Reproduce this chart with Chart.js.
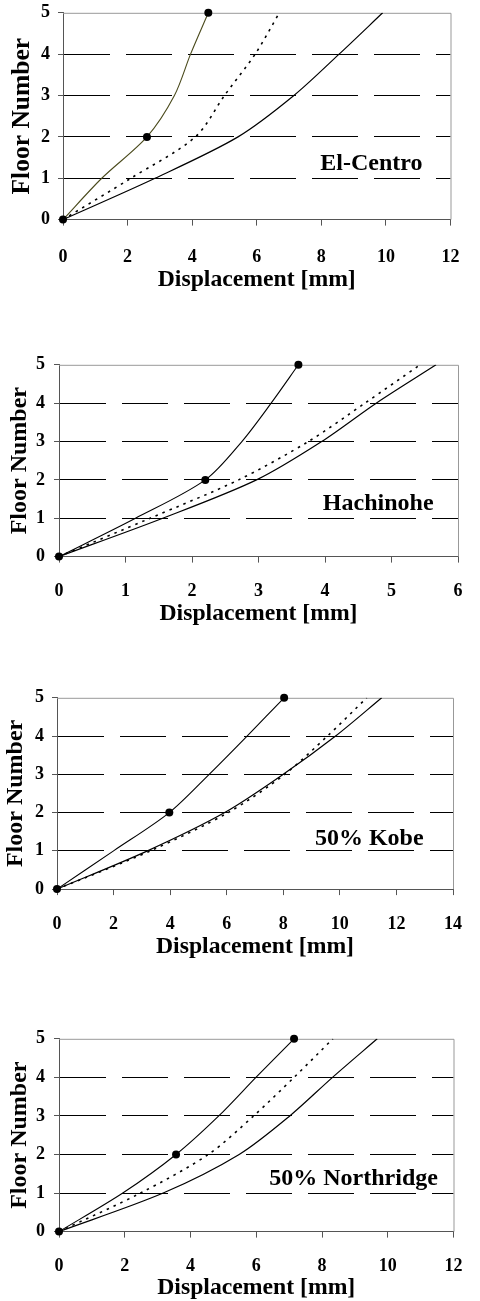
<!DOCTYPE html>
<html>
<head>
<meta charset="utf-8">
<script src="https://cdn.jsdelivr.net/npm/chart.js@4.4.1/dist/chart.umd.min.js"></script>
<style>
  body { margin: 0; background: #fff; width: 480px; height: 1301px; position: relative; overflow: hidden; }
  .box { position: absolute; left: 0; width: 480px; }
</style>
</head>
<body>
<div class="box" id="b1"><canvas id="c1"></canvas></div>
<div class="box" id="b2"><canvas id="c2"></canvas></div>
<div class="box" id="b3"><canvas id="c3"></canvas></div>
<div class="box" id="b4"><canvas id="c4"></canvas></div>
<script>
// floors (y values) shared by every chart
var floors = [0, 1, 2, 3, 4, 5];
var markedFloors = [0, 2, 5];
var floorTicks = ['0', '1', '2', '3', '4', '5'];

// El-Centro
var elCentroA = [0, 1.2, 2.6, 3.45, 3.95, 4.5];
var elCentroB = [0, 2.1, 4.1, 5.0, 5.95, 6.7];
var elCentroC = [0, 2.85, 5.42, 7.15, 8.55, 9.9];
// Hachinohe
var hachinoheA = [0, 1.15, 2.2, 2.75, 3.19, 3.6];
var hachinoheB = [0, 1.37, 2.7, 3.75, 4.6, 5.43];
var hachinoheC = [0, 1.56, 2.97, 3.95, 4.77, 5.67];
// 50% Kobe
var kobeA = [0, 2.0, 3.97, 5.38, 6.72, 8.03];
var kobeB = [0, 3.3, 6.05, 8.05, 9.56, 10.95];
var kobeC = [0, 3.2, 5.93, 8.0, 9.85, 11.48];
// 50% Northridge
var northA = [0, 1.94, 3.56, 4.86, 5.99, 7.15];
var northB = [0, 2.48, 4.54, 5.92, 7.15, 8.33];
var northC = [0, 3.17, 5.48, 7.02, 8.32, 9.68];

var xMax = [12, 6, 14, 12];
var xStep = [2, 1, 2, 2];
var names = ['El-Centro', 'Hachinohe', '50% Kobe', '50% Northridge'];
// where the record name sits, in axis units [displacement, floor]
var nameAt = [[9.55, 1.35], [4.8, 1.37], [11.04, 1.32], [8.96, 1.37]];

var serif = '"Liberation Serif", "Times New Roman", serif';

// page placement of every plot area (left, right, top, bottom) plus text offsets
var frames = [
  {l: 63, r: 470, t: 9, b: 220, tickPad: 20.5, xTitle: 60, yTitleSize: 25.5, yTitlePad: 7.5, yPad: 8},
  {l: 59, r: 471, t: 360, b: 557, tickPad: 17.5, xTitle: 57, yTitleSize: 24, yTitlePad: 5.5, yPad: 9},
  {l: 57, r: 464, t: 694, b: 889, tickPad: 18, xTitle: 57.5, yTitleSize: 24, yTitlePad: 1.5, yPad: 8},
  {l: 59, r: 466, t: 1034, b: 1232, tickPad: 17.5, xTitle: 56, yTitleSize: 24, yTitlePad: 5.5, yPad: 9}
];

function pts(xs){
  return xs.map(function(v, i){ return {x: v, y: floors[i]}; });
}

var framePlugin = {
  id: 'frame',
  beforeDatasetsDraw: function(chart){
    var a = chart.chartArea, ctx = chart.ctx;
    ctx.save();
    ctx.strokeStyle = '#999';
    ctx.lineWidth = 1;
    ctx.beginPath();
    ctx.moveTo(a.left, a.top + 0.5);
    ctx.lineTo(a.right + 0.5, a.top + 0.5);
    ctx.lineTo(a.right + 0.5, a.bottom);
    ctx.stroke();
    ctx.restore();
  },
  afterDatasetsDraw: function(chart){
    var n = chart.options.plugins.frame;
    var ctx = chart.ctx;
    ctx.save();
    ctx.font = 'bold 24px ' + serif;
    ctx.fillStyle = '#000';
    ctx.textAlign = 'center';
    ctx.textBaseline = 'middle';
    ctx.fillText(n.text, chart.scales.x.getPixelForValue(n.at[0]), chart.scales.y.getPixelForValue(n.at[1]));
    ctx.restore();
  }
};

function makeChart(k, a, b, c, lineColor){
  var f = frames[k];
  var topPad = 15;
  var xh = f.xTitle + 14.4;
  var box = document.getElementById('b' + (k + 1));
  var h = Math.round(f.b - f.t + topPad + xh);
  box.style.top = (f.t - topPad) + 'px';
  box.style.height = h + 'px';
  var cv = document.getElementById('c' + (k + 1));
  cv.width = 480; cv.height = h;

  var radius = function(ctx){ return markedFloors.indexOf(floors[ctx.dataIndex]) >= 0 ? 4 : 0; };

  new Chart(cv, {
    type: 'line',
    data: {
      datasets: [
        {data: pts(a), borderColor: lineColor, borderWidth: 1.1, pointRadius: radius, clip: false,
         pointBackgroundColor: '#000', pointBorderColor: '#000', pointBorderWidth: 0, tension: 0.3},
        {data: pts(b), borderColor: '#000', borderWidth: 1.6, borderDash: [2.5, 5], pointRadius: 0, tension: 0.3},
        {data: pts(c), borderColor: '#000', borderWidth: 1.2, pointRadius: 0, tension: 0.3}
      ]
    },
    options: {
      responsive: false,
      animation: false,
      devicePixelRatio: 1,
      layout: {padding: {top: topPad, left: 0, right: 480 - f.r, bottom: 0}},
      plugins: {
        legend: {display: false},
        tooltip: {enabled: false},
        frame: {text: names[k], at: nameAt[k]}
      },
      scales: {
        x: {
          type: 'linear', min: 0, max: xMax[k],
          afterFit: function(s){ s.height = xh; },
          ticks: {stepSize: xStep[k], padding: f.tickPad, color: '#000',
                  font: {family: serif, size: 18, weight: 'bold', lineHeight: 1.2}},
          grid: {drawOnChartArea: false, drawTicks: true, tickLength: 6, color: '#555'},
          border: {color: '#555', width: 1},
          title: {display: true, text: 'Displacement [mm]', color: '#000', padding: 0,
                  font: {family: serif, size: 23.7, weight: 'bold', lineHeight: 1.2}}
        },
        y: {
          type: 'linear', min: 0, max: 5,
          afterFit: function(s){ s.width = f.l; },
          ticks: {stepSize: 1, padding: f.yPad, color: '#000',
                  callback: function(v){ return floorTicks[v]; },
                  font: {family: serif, size: 18, weight: 'bold', lineHeight: 1.2}},
          grid: {
            drawTicks: true, tickLength: 5, tickColor: '#555', lineWidth: 1,
            color: function(ctx){ return (ctx.tick && ctx.tick.value > 0 && ctx.tick.value < 5) ? '#000' : 'rgba(0,0,0,0)'; }
          },
          border: {color: '#555', width: 1, dash: [46, 16]},
          title: {display: true, text: 'Floor Number', color: '#000', padding: {top: f.yTitlePad, bottom: 0},
                  font: {family: serif, size: f.yTitleSize, weight: 'bold', lineHeight: 1.2}}
        }
      }
    },
    plugins: [framePlugin]
  });
}

makeChart(0, elCentroA, elCentroB, elCentroC, '#4a4a1c');
makeChart(1, hachinoheA, hachinoheB, hachinoheC, '#000');
makeChart(2, kobeA, kobeB, kobeC, '#000');
makeChart(3, northA, northB, northC, '#000');
</script>
</body>
</html>
